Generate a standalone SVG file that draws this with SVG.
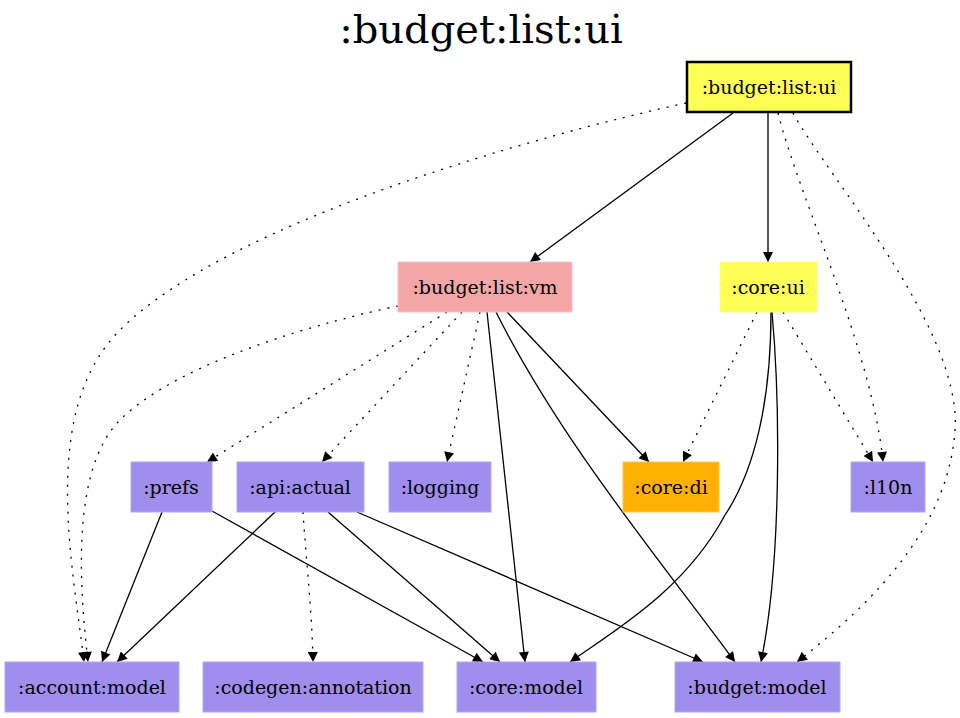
<svg xmlns="http://www.w3.org/2000/svg" width="960" height="718" viewBox="0 0 960 718">
<style>
text{font-family:"DejaVu Serif","Liberation Serif",serif;fill:#000}
.t{font-size:40px;text-anchor:middle}
.n text{font-size:19px;text-anchor:middle}
.e path{fill:none;stroke:#000;stroke-width:1.3;marker-end:url(#ah)}
.e path.d{stroke-dasharray:2 7}
.pu{fill:#a08eee;stroke:#b3a6f2;stroke-width:1}
.ye{fill:#ffff55;stroke:#ffff88;stroke-width:1}
.pk{fill:#f4a6a6;stroke:#f8c4c4;stroke-width:1}
.or{fill:#ffb000;stroke:#ffc84d;stroke-width:1}
</style>
<defs>
<marker id="ah" viewBox="0 0 10 10" refX="10" refY="5" markerWidth="13" markerHeight="10" markerUnits="userSpaceOnUse" orient="auto">
<path d="M0,0 L10,5 L0,10 z" fill="#000"/>
</marker>
</defs>
<rect width="960" height="718" fill="#fff"/>
<text class="t" x="481" y="43">:budget:list:ui</text>
<g class="e" id="edges">
<path d="M733,113 L530,262"/>
<path d="M768,113 L768,262"/>
<path class="d" d="M778,113 C800,200 872,350 883,462"/>
<path class="d" d="M793,113 C830,180 962,330 955,430 C948,540 850,620 797,662"/>
<path class="d" d="M686,103 C540,135 230,220 120,330 C40,410 72,560 84,662"/>
<path class="d" d="M398,306 C330,320 180,360 120,420 C70,470 80,590 88,662"/>
<path class="d" d="M447,312 L207,462"/>
<path class="d" d="M462,312 L322,462"/>
<path class="d" d="M480,312 L447,462"/>
<path d="M487,312 L525,662"/>
<path d="M496,312 C560,440 660,560 735,662"/>
<path d="M507,312 L649,462"/>
<path class="d" d="M757,312 L683,462"/>
<path d="M771,312 C771,400 755,470 725,515 C685,590 615,630 570,662"/>
<path d="M772,312 C780,400 782,560 761,662"/>
<path class="d" d="M783,312 L873,462"/>
<path d="M162,512 L102,662"/>
<path d="M212,511 L483,662"/>
<path d="M275,512 L117,662"/>
<path class="d" d="M303,512 C306,560 312,610 313,662"/>
<path d="M328,512 L500,662"/>
<path d="M357,512 L703,662"/>
</g>
<g class="n" id="budget_list_ui"><rect x="687" y="62" width="164" height="50" fill="#ffff55" stroke="#000" stroke-width="2.5"/><text x="769" y="94">:budget:list:ui</text></g>
<g class="n" id="budget_list_vm"><rect class="pk" x="398" y="262" width="174" height="50"/><text x="485" y="294">:budget:list:vm</text></g>
<g class="n" id="core_ui"><rect class="ye" x="720" y="262" width="97" height="50"/><text x="768" y="294">:core:ui</text></g>
<g class="n" id="prefs"><rect class="pu" x="131" y="462" width="81" height="50"/><text x="171" y="494">:prefs</text></g>
<g class="n" id="api_actual"><rect class="pu" x="237" y="462" width="127" height="50"/><text x="300" y="494">:api:actual</text></g>
<g class="n" id="logging"><rect class="pu" x="389" y="462" width="102" height="50"/><text x="440" y="494">:logging</text></g>
<g class="n" id="core_di"><rect class="or" x="623" y="462" width="96" height="50"/><text x="671" y="494">:core:di</text></g>
<g class="n" id="l10n"><rect class="pu" x="851" y="462" width="74" height="50"/><text x="888" y="494">:l10n</text></g>
<g class="n" id="account_model"><rect class="pu" x="5" y="662" width="174" height="50"/><text x="92" y="694">:account:model</text></g>
<g class="n" id="codegen_annotation"><rect class="pu" x="203" y="662" width="220" height="50"/><text x="313" y="694">:codegen:annotation</text></g>
<g class="n" id="core_model"><rect class="pu" x="457" y="662" width="139" height="50"/><text x="526" y="694">:core:model</text></g>
<g class="n" id="budget_model"><rect class="pu" x="675" y="662" width="165" height="50"/><text x="757" y="694">:budget:model</text></g>
</svg>
